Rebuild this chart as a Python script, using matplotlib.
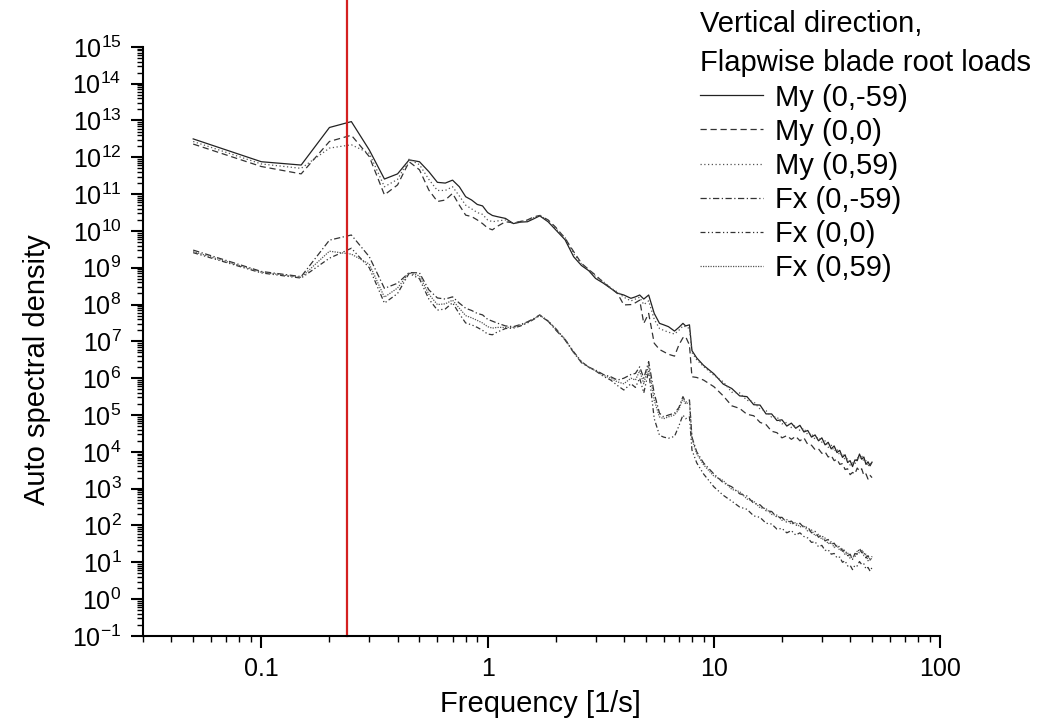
import numpy as np
import matplotlib
matplotlib.use("Agg")
import matplotlib.pyplot as plt
from matplotlib.ticker import LogLocator, FuncFormatter, NullFormatter

plt.rcParams['font.family'] = ['Liberation Sans', 'DejaVu Sans']
plt.rcParams['mathtext.fontset'] = 'custom'
plt.rcParams['mathtext.rm'] = 'Liberation Sans'
plt.rcParams['mathtext.it'] = 'Liberation Sans:italic'
plt.rcParams['mathtext.bf'] = 'Liberation Sans:bold'

freq = [0.05, 0.1, 0.15, 0.2, 0.25, 0.3, 0.35, 0.4, 0.45, 0.5,
        0.55, 0.6, 0.65, 0.7, 0.75, 0.8, 0.85, 0.9, 0.95, 1.0,
        1.05, 1.1, 1.2, 1.3, 1.4, 1.5, 1.6, 1.7, 1.85, 2.0,
        2.2, 2.4, 2.6, 2.8, 3.0, 3.25, 3.5, 3.75, 4.0, 4.3,
        4.5, 4.7, 4.9, 5.15, 5.45, 5.75, 6.0, 6.3, 6.7, 7.0,
        7.3, 7.5, 7.8, 8.0, 8.4, 9.0,
        10, 11, 12, 13, 14, 15, 16, 17, 18, 19,
        20, 21, 22, 23, 24, 25, 26, 27, 28, 29,
        30, 31, 32, 33, 34, 35, 36, 37, 38, 39,
        40, 41, 42, 43, 44, 45, 46, 47, 48, 49, 50]

# log10 of auto spectral density
my_m59 = [12.5, 11.88, 11.79, 12.81, 12.97, 12.2, 11.41, 11.55, 11.93, 11.88,
          11.61, 11.32, 11.3, 11.38, 11.2, 10.93, 10.84, 10.72, 10.68, 10.5,
          10.42, 10.39, 10.34, 10.2, 10.24, 10.25, 10.33, 10.41, 10.25, 10.03,
          9.76, 9.3, 9.06, 8.92, 8.71, 8.58, 8.44, 8.31, 8.26, 8.17,
          8.21, 8.26, 8.15, 8.26, 7.76, 7.49, 7.45, 7.4, 7.28, 7.38,
          7.49, 7.42, 7.45, 6.75, 6.55, 6.35,
          6.12, 5.84, 5.72, 5.52, 5.50, 5.28, 5.27, 5.03, 5.03, 4.85,
          4.87, 4.70, 4.78, 4.64, 4.72, 4.54, 4.58, 4.40, 4.46, 4.30,
          4.38, 4.19, 4.26, 4.08, 4.16, 3.98, 4.04, 3.85, 3.92, 3.71,
          3.76, 3.60, 3.78, 3.76, 3.94, 3.80, 3.86, 3.66, 3.73, 3.62, 3.72]
my_0 = [12.36, 11.75, 11.55, 12.43, 12.6, 12.02, 10.98, 11.25, 11.88, 11.66,
        11.11, 10.8, 10.84, 11.02, 10.7, 10.43, 10.39, 10.3, 10.2, 10.08,
        10.03, 10.12, 10.25, 10.22, 10.26, 10.3, 10.38, 10.42, 10.3, 10.1,
        9.8, 9.44, 9.12, 8.95, 8.8, 8.6, 8.45, 8.3, 7.99, 8.0,
        8.05, 8.12, 7.49, 7.76, 6.95, 6.78, 6.72, 6.65, 6.6, 6.9,
        7.1, 7.13, 6.9, 6.04, 6.02, 5.95,
        5.77, 5.52, 5.25, 5.18, 5.02, 4.98, 4.80, 4.74, 4.56, 4.52,
        4.38, 4.44, 4.34, 4.42, 4.30, 4.38, 4.20, 4.18, 4.06, 4.08,
        3.96, 4.00, 3.86, 3.90, 3.76, 3.80, 3.66, 3.68, 3.52, 3.54,
        3.38, 3.44, 3.40, 3.56, 3.48, 3.54, 3.36, 3.40, 3.26, 3.36, 3.30]
my_59 = [12.43, 11.82, 11.7, 12.25, 12.34, 12.11, 11.2, 11.4, 11.95, 11.8,
         11.4, 11.1, 11.1, 11.2, 10.95, 10.7, 10.6, 10.5, 10.45, 10.3,
         10.25, 10.27, 10.3, 10.2, 10.26, 10.28, 10.36, 10.43, 10.28, 10.06,
         9.82, 9.38, 9.1, 8.95, 8.76, 8.62, 8.45, 8.34, 8.2, 8.1,
         8.15, 8.2, 8.0, 8.1, 7.6, 7.35, 7.3, 7.25, 7.2, 7.3,
         7.42, 7.4, 7.35, 6.7, 6.5, 6.32,
         6.08, 5.90, 5.62, 5.60, 5.40, 5.36, 5.16, 5.12, 4.94, 4.95,
         4.76, 4.80, 4.66, 4.72, 4.58, 4.64, 4.46, 4.50, 4.34, 4.40,
         4.26, 4.30, 4.12, 4.18, 4.02, 4.08, 3.90, 3.96, 3.78, 3.82,
         3.64, 3.70, 3.66, 3.86, 3.80, 3.90, 3.74, 3.76, 3.60, 3.70, 3.62]
fx_m59 = [9.48, 8.9, 8.76, 9.75, 9.89, 9.3, 8.44, 8.58, 8.87, 8.86,
          8.4, 8.18, 8.15, 8.21, 8.04, 7.9, 7.84, 7.76, 7.72, 7.6,
          7.55, 7.5, 7.42, 7.4, 7.46, 7.53, 7.62, 7.72, 7.55, 7.31,
          7.04, 6.7, 6.42, 6.3, 6.22, 6.1, 6.04, 5.95, 6.0, 6.1,
          6.13, 6.31, 6.0, 6.45, 5.59, 5.05, 4.95, 5.0, 5.05, 5.2,
          5.5, 5.35, 5.41, 4.4, 4.0, 3.7,
          3.40, 3.16, 3.05, 2.86, 2.80, 2.60, 2.56, 2.40, 2.38, 2.22,
          2.22, 2.08, 2.12, 2.00, 2.06, 1.94, 1.96, 1.80, 1.84, 1.68,
          1.74, 1.58, 1.62, 1.48, 1.52, 1.40, 1.44, 1.30, 1.34, 1.18,
          1.22, 1.08, 1.24, 1.22, 1.38, 1.26, 1.30, 1.12, 1.18, 1.06, 1.16]
fx_0 = [9.41, 8.86, 8.72, 9.26, 9.53, 9.0, 8.04, 8.3, 8.85, 8.7,
        8.15, 7.85, 7.88, 8.05, 7.75, 7.5, 7.45, 7.38, 7.3, 7.2,
        7.18, 7.25, 7.35, 7.36, 7.42, 7.5, 7.6, 7.7, 7.55, 7.35,
        7.05, 6.72, 6.45, 6.3, 6.2, 6.05, 5.95, 5.8, 5.68, 5.85,
        5.75, 6.0, 5.6, 6.2, 4.9, 4.45, 4.4, 4.37, 4.42, 4.7,
        5.0, 4.9, 4.95, 4.05, 3.7, 3.4,
        3.05, 2.82, 2.66, 2.50, 2.44, 2.26, 2.22, 2.06, 2.04, 1.90,
        1.92, 1.80, 1.86, 1.74, 1.80, 1.70, 1.66, 1.54, 1.56, 1.42,
        1.46, 1.32, 1.34, 1.22, 1.24, 1.12, 1.14, 1.00, 1.04, 0.90,
        0.92, 0.80, 0.92, 0.90, 1.02, 0.94, 0.96, 0.82, 0.86, 0.76, 0.86]
fx_59 = [9.44, 8.88, 8.74, 9.45, 9.37, 9.1, 8.2, 8.45, 8.86, 8.78,
         8.28, 8.0, 8.02, 8.12, 7.9, 7.7, 7.64, 7.57, 7.5, 7.4,
         7.36, 7.38, 7.38, 7.38, 7.44, 7.52, 7.61, 7.71, 7.56, 7.33,
         7.06, 6.7, 6.44, 6.3, 6.2, 6.08, 6.0, 5.9, 5.85, 6.0,
         5.95, 6.2, 5.85, 6.35, 5.4, 4.95, 4.9, 4.95, 5.0, 5.15,
         5.45, 5.3, 5.35, 4.35, 3.95, 3.65,
         3.34, 3.22, 2.98, 2.92, 2.72, 2.66, 2.48, 2.46, 2.30, 2.28,
         2.14, 2.16, 2.04, 2.08, 1.96, 2.00, 1.84, 1.88, 1.72, 1.76,
         1.62, 1.66, 1.50, 1.56, 1.40, 1.46, 1.32, 1.36, 1.20, 1.26,
         1.10, 1.16, 1.14, 1.30, 1.26, 1.34, 1.18, 1.22, 1.04, 1.12, 1.08]

labels = ["My (0,-59)", "My (0,0)", "My (0,59)", "Fx (0,-59)", "Fx (0,0)", "Fx (0,59)"]
series = [my_m59, my_0, my_59, fx_m59, fx_0, fx_59]
styles = ['-', (0, (5, 3)), (0, (1, 2)), (0, (5, 2, 1, 2)), (0, (4, 2, 1, 2, 1, 2)), (0, (1, 1))]
colors = ['#222222', '#333333', '#555555', '#333333', '#333333', '#555555']

f_peak = 0.24

fig = plt.figure(figsize=(10.4, 7.21), dpi=100)
ax = fig.add_axes([0.1375, 0.118, 0.7665, 0.817])

for vals, lab, ls, c in zip(series, labels, styles, colors):
    ax.plot(freq, 10 ** np.array(vals), color=c, linestyle=ls, linewidth=0.9, label=lab)

ax.axvline(f_peak, ymin=0, ymax=1.08, color='#d42020', linewidth=1.6, clip_on=False)

ax.set_xscale('log')
ax.set_yscale('log')
ax.set_xlim(0.03, 100)
ax.set_ylim(1e-1, 1e15)

ax.yaxis.set_major_locator(LogLocator(base=10, numticks=30))
ax.yaxis.set_minor_locator(LogLocator(base=10, subs=np.arange(2, 10), numticks=300))
ax.yaxis.set_minor_formatter(NullFormatter())
ax.yaxis.set_major_formatter(FuncFormatter(lambda v, p: r'$\mathregular{10^{%d}}$' % round(np.log10(v))))
ax.xaxis.set_major_locator(LogLocator(base=10, numticks=10))
ax.xaxis.set_minor_locator(LogLocator(base=10, subs=np.arange(2, 10), numticks=100))
ax.xaxis.set_minor_formatter(NullFormatter())
ax.xaxis.set_major_formatter(FuncFormatter(lambda v, p: '%g' % v))

for side in ['top', 'right']:
    ax.spines[side].set_visible(False)
for side in ['left', 'bottom']:
    ax.spines[side].set_linewidth(1.5)
ax.tick_params(which='major', direction='out', length=8.5, width=1.5, labelsize=18, pad=7)
ax.tick_params(which='minor', direction='out', length=4.3, width=1.0)

ax.set_xlabel("Frequency [1/s]", fontsize=21)
ax.set_ylabel("Auto spectral density", fontsize=21)
ax.xaxis.set_label_coords(0.498, -0.1155)
ax.xaxis.label.set_va('center')
ax.yaxis.set_label_coords(-0.133, 0.452)
ax.yaxis.label.set_va('center')

leg = fig.legend(loc='upper left', bbox_to_anchor=(0.673, 0.9856), frameon=False,
                 title="Vertical direction,\nFlapwise blade root loads",
                 fontsize=21, title_fontsize=21, handlelength=2.16, handletextpad=0.4,
                 labelspacing=0.21, borderaxespad=0, borderpad=0)
leg._legend_box.align = 'left'
leg.get_title().set_linespacing(1.5)

fig.savefig("out.png", dpi=100)
